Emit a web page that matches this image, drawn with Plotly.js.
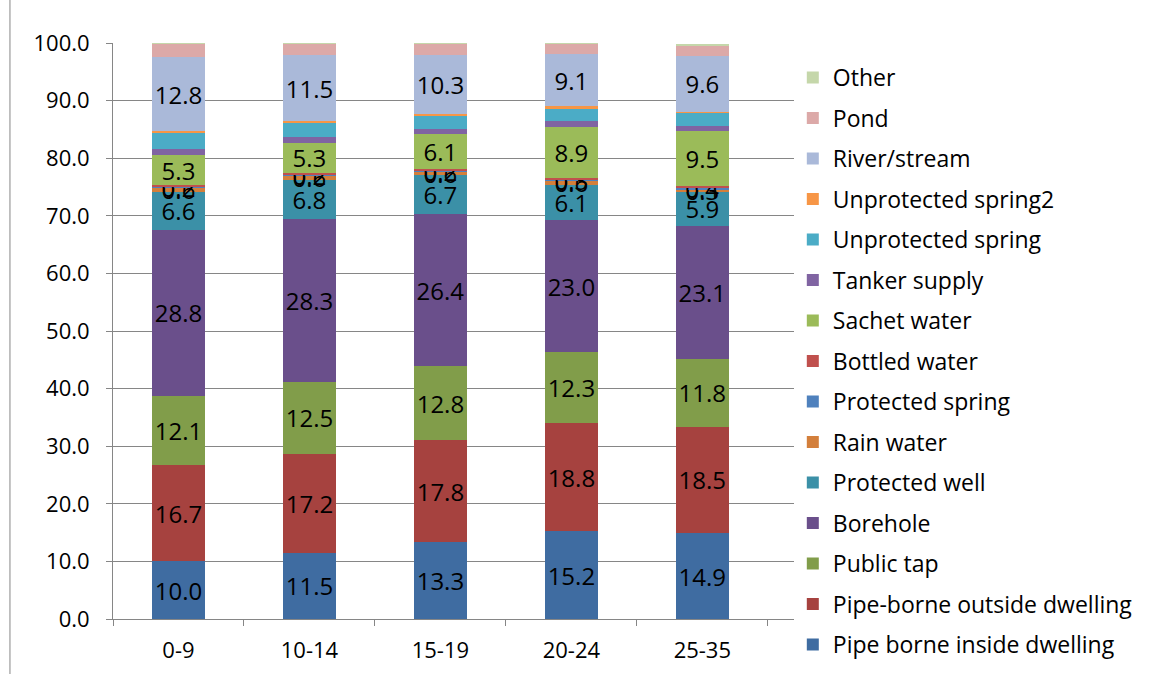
<!DOCTYPE html>
<html>
<head>
<meta charset="utf-8">
<script src="https://cdn.plot.ly/plotly-3.0.1.min.js"></script>
<style>html,body{margin:0;padding:0;background:#fff;}#chart{width:1149px;height:674px;}</style>
</head>
<body>
<div id="chart"></div>
<script>
const ageGroups = ["0-9", "10-14", "15-19", "20-24", "25-35"];

const pipeInside     = [10.0, 11.5, 13.3, 15.2, 14.9];
const pipeOutside    = [16.7, 17.2, 17.8, 18.8, 18.5];
const publicTap      = [12.1, 12.5, 12.8, 12.3, 11.8];
const borehole       = [28.8, 28.3, 26.4, 23.0, 23.1];
const protectedWell  = [6.6, 6.8, 6.7, 6.1, 5.9];
const rainWater      = [0.6, 0.6, 0.6, 0.6, 0.3];
const protectedSpring= [0.2, 0.2, 0.2, 0.3, 0.4];
const bottledWater   = [0.3, 0.3, 0.3, 0.3, 0.3];
const sachetWater    = [5.3, 5.3, 6.1, 8.9, 9.5];
const tankerSupply   = [1.0, 0.9, 0.8, 1.0, 0.9];
const unprotSpring   = [2.8, 2.5, 2.4, 2.1, 2.2];
const unprotSpring2  = [0.3, 0.3, 0.3, 0.4, 0.3];
const riverStream    = [12.8, 11.5, 10.3, 9.1, 9.6];
const pond           = [2.4, 1.9, 1.9, 1.7, 1.8];
const other          = [0.1, 0.2, 0.1, 0.2, 0.3];

const seriesNames = ["Pipe borne inside dwelling", "Pipe-borne outside dwelling", "Public tap", "Borehole",
  "Protected well", "Rain water", "Protected spring", "Bottled water", "Sachet water", "Tanker supply",
  "Unprotected spring", "Unprotected spring2", "River/stream", "Pond", "Other"];
const seriesValues = [pipeInside, pipeOutside, publicTap, borehole, protectedWell, rainWater, protectedSpring,
  bottledWater, sachetWater, tankerSupply, unprotSpring, unprotSpring2, riverStream, pond, other];
const seriesColors = ["#3F6CA1", "#A6423F", "#819D4A", "#6A4F8B", "#3B90A7", "#D37F3B", "#4F81BD",
  "#C0504D", "#9BBB59", "#8064A2", "#4BACC6", "#F79646", "#AAB9D9", "#DCA9A8", "#C5D7AA"];
const labelled = [true, true, true, true, true, true, true, false, true, false, false, false, true, false, false];

const FONT = "Open Sans, Noto Sans, sans-serif";

const traces = seriesNames.map((name, i) => ({
  type: "bar",
  name: name,
  x: ageGroups,
  y: seriesValues[i],
  legendgroup: "g" + i,
  legendrank: 1000 - i,
  marker: {color: seriesColors[i], line: {width: 0}},
  text: labelled[i] ? seriesValues[i].map(v => v.toFixed(1)) : null,
  texttemplate: labelled[i] ? "%{text}" : "",
  textposition: labelled[i] ? "inside" : "none",
  insidetextanchor: "middle",
  textangle: 0,
  constraintext: "none",
  textfont: {family: FONT, size: 24, color: "#000000"},
  hoverinfo: "name+y"
}));

const layout = {
  width: 1149,
  height: 674,
  paper_bgcolor: "#ffffff",
  plot_bgcolor: "#ffffff",
  barmode: "stack",
  bargap: 0.6,
  showlegend: true,
  margin: {l: 113, r: 355, t: 43, b: 55, autoexpand: false},
  font: {family: FONT, size: 22, color: "#000000"},
  xaxis: {
    type: "category",
    range: [-0.5, 4.7],
    showline: true,
    linecolor: "#868686",
    linewidth: 1,
    ticks: "outside",
    tickson: "boundaries",
    ticklen: 6,
    tickcolor: "#868686",
    showgrid: false,
    tickfont: {family: FONT, size: 22, color: "#000000"},
    ticklabelstandoff: 12,
    fixedrange: true
  },
  yaxis: {
    range: [0, 100],
    dtick: 10,
    tickformat: ".1f",
    showline: true,
    linecolor: "#868686",
    linewidth: 1,
    ticks: "outside",
    ticklen: 6,
    tickcolor: "#868686",
    showgrid: true,
    gridcolor: "#868686",
    gridwidth: 1,
    zeroline: false,
    tickfont: {family: FONT, size: 22, color: "#000000"},
    ticklabelstandoff: 12,
    fixedrange: true
  },
  legend: {
    traceorder: "grouped",
    tracegroupgap: 7.6,
    xref: "container",
    yref: "container",
    x: 0.690,
    xanchor: "left",
    y: 1 - 56 / 674,
    yanchor: "top",
    maxheight: 640,
    font: {family: FONT, size: 23, color: "#000000"},
    bgcolor: "rgba(0,0,0,0)",
    borderwidth: 0
  },
  shapes: [
    {type: "line", xref: "paper", yref: "paper", x0: -0.1513, x1: -0.1513, y0: -0.1, y1: 1.08,
     line: {color: "#868686", width: 1}}
  ]
};

Plotly.newPlot("chart", traces, layout, {displayModeBar: false, staticPlot: true});
</script>
</body>
</html>
